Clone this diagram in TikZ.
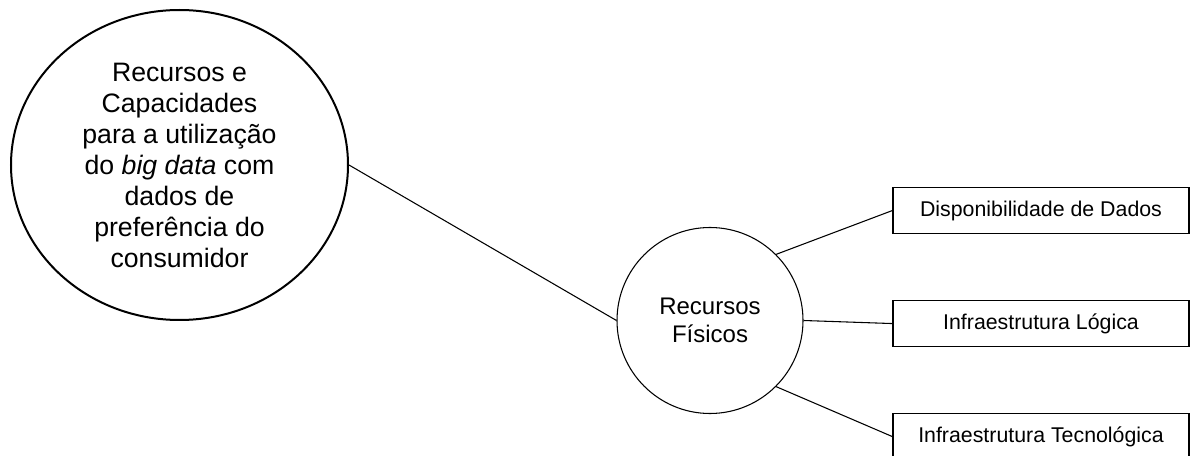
\documentclass[tikz,border=0pt]{standalone}
\usepackage{fontspec}
\setmainfont{Liberation Sans}
\usetikzlibrary{positioning,shapes.geometric}

\begin{document}
\begin{tikzpicture}[x=0.75pt,y=-0.75pt,node distance=49.5pt,
item/.style={draw,line width=.8pt,minimum width=222pt,minimum height=34.5pt,inner sep=0pt,font=\fontsize{16}{19}\selectfont},
hub/.style={draw,circle,line width=.8pt,minimum size=139.5pt,align=center,inner sep=0pt,font=\fontsize{18}{21}\selectfont},
link/.style={line width=.8pt}]
\useasboundingbox (0,0) rectangle (1190,456);
\node[draw,ellipse,line width=1.5pt,minimum width=252.75pt,minimum height=232.5pt,align=center,inner sep=0pt,font=\fontsize{20}{23.25}\selectfont](root) at (179.5,165){Recursos e\\Capacidades\\para a utilização\\do \textit{big data} com\\dados de\\preferência do\\consumidor};
\node[hub](rf) at (710,320.5){Recursos\\Físicos};
\node[item](dd) at (1041,210.5){Disponibilidade de Dados};
\node[item,below=of dd](il){Infraestrutura Lógica};
\node[item,below=of il](it){Infraestrutura Tecnológica};
\draw[link](root.east)--(rf.west);
\draw[link](rf.north east)--(dd.west);\draw[link](rf.east)--(il.west);
\draw[link](rf.south east)--(it.west);
\end{tikzpicture}
\end{document}
